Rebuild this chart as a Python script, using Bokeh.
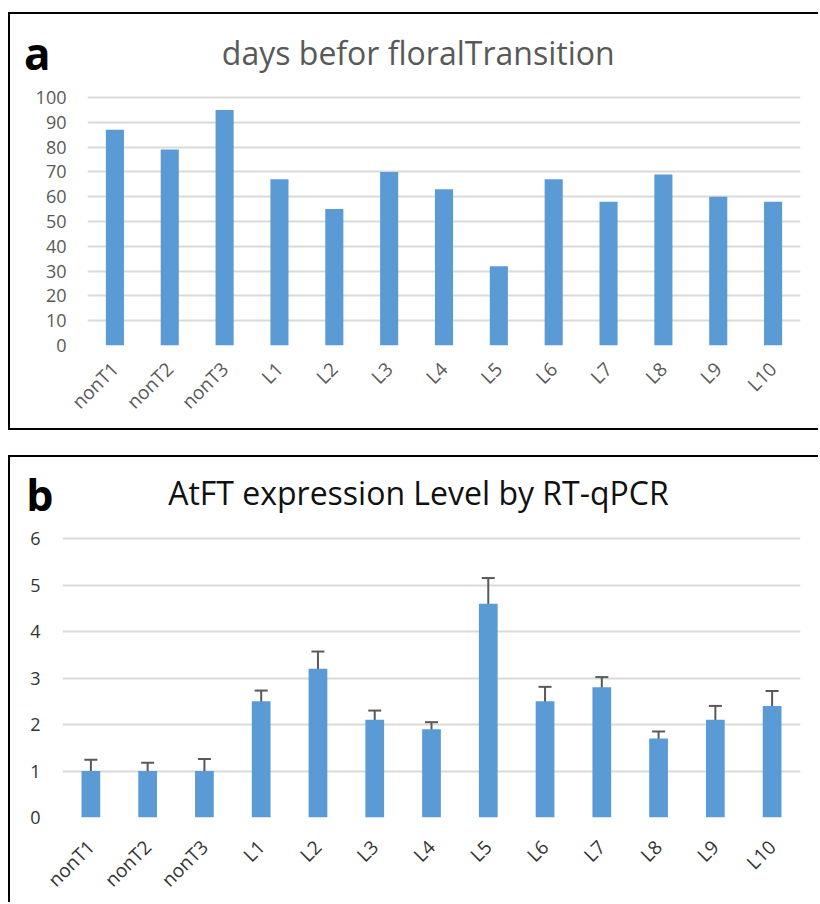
import math
from bokeh.plotting import figure
from bokeh.models import (ColumnDataSource, FactorRange, Range1d, Whisker,
                          TeeHead, Label, FixedTicker, LinearAxis)
from bokeh.embed import file_html
from bokeh.resources import INLINE

# ---------------- data ----------------
lines = ["nonT1", "nonT2", "nonT3", "L1", "L2", "L3", "L4", "L5", "L6",
         "L7", "L8", "L9", "L10"]
days_before_transition = [87, 79, 95, 67, 55, 70, 63, 32, 67, 58, 69, 60, 58]
ft_expression = [1.0, 1.0, 1.0, 2.5, 3.2, 2.1, 1.9, 4.6, 2.5, 2.8, 1.7, 2.1, 2.4]
ft_error = [0.24, 0.18, 0.26, 0.23, 0.37, 0.20, 0.15, 0.55, 0.31, 0.22, 0.15,
            0.30, 0.32]
days_ticks = [0, 10, 20, 30, 40, 50, 60, 70, 80, 90, 100]
expr_ticks = [0, 1, 2, 3, 4, 5, 6]

title_a = "days befor floralTransition"
title_b = "AtFT expression Level by RT-qPCR"

BAR = "#5b9bd5"
GRID = "#d9d9d9"
FONT = "Open Sans"


def style_axes(p, ticks, tick_color, xsize, ysize, xstand, ystand):
    xa, ya = p.xaxis[0], p.yaxis[0]
    for ax in (xa, ya):
        ax.axis_line_color = None
        ax.major_tick_line_color = None
        ax.minor_tick_line_color = None
        ax.major_tick_out = 0
        ax.major_tick_in = 0
        ax.major_label_text_color = tick_color
        ax.major_label_text_font = FONT
    xa.major_label_text_font_size = xsize
    ya.major_label_text_font_size = ysize
    xa.major_label_orientation = math.pi / 4
    xa.major_label_standoff = xstand
    ya.major_label_standoff = ystand
    tk = FixedTicker(ticks=ticks)
    ya.ticker = tk
    p.ygrid.ticker = tk
    p.xgrid.grid_line_color = None
    p.ygrid.grid_line_color = GRID
    p.ygrid.grid_line_width = 2


def panel_letter(p, letter, ypos, size, standoff):
    ax = LinearAxis(ticker=FixedTicker(ticks=[ypos]),
                    major_label_overrides={ypos: letter})
    ax.axis_line_color = None
    ax.major_tick_line_color = None
    ax.minor_tick_line_color = None
    ax.major_tick_out = 0
    ax.major_tick_in = 0
    ax.major_label_standoff = standoff
    ax.major_label_text_font = FONT
    ax.major_label_text_font_size = size
    ax.major_label_text_font_style = "bold"
    ax.major_label_text_color = "black"
    p.add_layout(ax, "left")


# ---------------- panel a ----------------
src_a = ColumnDataSource(dict(lines=lines, days=days_before_transition))
pa = figure(x_range=FactorRange(*lines, range_padding=0),
            y_range=Range1d(0, 131.05),
            width=810, height=418, output_backend="svg", toolbar_location=None,
            min_border_left=77, min_border_right=20, min_border_top=6,
            min_border_bottom=87, outline_line_color=None,
            border_fill_color=None,
            styles={"overflow": "hidden",
                    "border-left": "2px solid black",
                    "border-top": "2px solid black",
                    "border-bottom": "2px solid black",
                    "border-right": "none"})
pa.vbar(x="lines", top="days", width=0.33, source=src_a,
        fill_color=BAR, line_color=None)
style_axes(pa, days_ticks, "#595959", "19px", "18px", 20, 21)
pa.add_layout(Label(x=6.03, y=118.0, text=title_a, text_align="center",
                    text_baseline="alphabetic", text_font=FONT,
                    text_font_size="32px", text_color="#595959"))
panel_letter(pa, "a", 117.8, "44px", -18)

# ---------------- panel b ----------------
upper = [v + e for v, e in zip(ft_expression, ft_error)]
lower = [v - e for v, e in zip(ft_expression, ft_error)]
src_b = ColumnDataSource(dict(lines=lines, expr=ft_expression,
                              upper=upper, lower=lower))
pb = figure(x_range=FactorRange(*lines, range_padding=0),
            y_range=Range1d(0, 7.4634),
            width=810, height=447, output_backend="svg", toolbar_location=None,
            min_border_left=52, min_border_right=20, min_border_top=13,
            min_border_bottom=77, outline_line_color=None,
            border_fill_color=None,
            styles={"overflow": "hidden",
                    "border-left": "2px solid black",
                    "border-top": "2px solid black",
                    "border-right": "none",
                    "border-bottom": "none"})
pb.vbar(x="lines", top="expr", width=0.33, source=src_b,
        fill_color=BAR, line_color=None)
pb.add_layout(Whisker(base="lines", upper="upper", lower="lower", source=src_b,
                      line_color="#595959", line_width=2,
                      upper_head=TeeHead(size=13, line_color="#595959",
                                         line_width=2),
                      lower_head=TeeHead(size=13, line_color="#595959",
                                         line_width=2)))
style_axes(pb, expr_ticks, "#333333", "19px", "18px", 26, 22)
pb.add_layout(Label(x=6.27, y=6.98, text=title_b, text_align="center",
                    text_baseline="alphabetic", text_font=FONT,
                    text_font_size="32px", text_color="#111111"))
panel_letter(pb, "b", 6.956, "43px", -26)

pa.margin = (12, 0, 0, 8)
pb.margin = (25, 0, 0, 8)

open("out.html", "w").write(file_html([pa, pb], INLINE))
